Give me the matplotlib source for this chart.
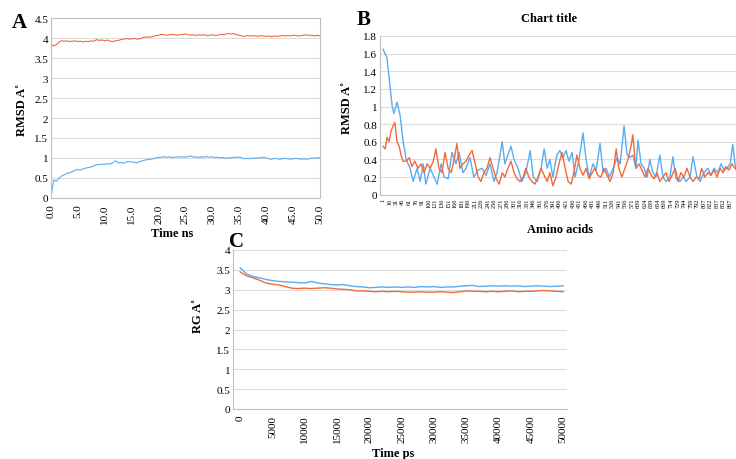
import numpy as np
import matplotlib
matplotlib.use("Agg")
import matplotlib.pyplot as plt

# ---------------- data ----------------
# Panel A: RMSD vs time (ns)
a_time = [i * 0.5 for i in range(101)]
a_orange = [3.85, 3.80, 3.83, 3.90, 3.93, 3.92, 3.93, 3.91, 3.92, 3.93, 3.91, 3.92, 3.90, 3.92, 3.91, 3.93,
            3.92, 3.96, 3.94, 3.95, 3.93, 3.95, 3.92, 3.91, 3.93, 3.94, 3.96, 3.97, 3.99, 3.97, 3.98, 3.99,
            3.97, 3.98, 4.01, 4.02, 4.03, 4.02, 4.04, 4.06, 4.07, 4.09, 4.08, 4.07, 4.08, 4.09, 4.08, 4.07,
            4.08, 4.09, 4.10, 4.08, 4.07, 4.08, 4.06, 4.08, 4.07, 4.08, 4.06, 4.07, 4.08, 4.06, 4.07, 4.09,
            4.08, 4.10, 4.11, 4.10, 4.11, 4.08, 4.07, 4.05, 4.04, 4.06, 4.05, 4.06, 4.05, 4.04, 4.06, 4.05,
            4.04, 4.05, 4.03, 4.05, 4.04, 4.05, 4.06, 4.05, 4.06, 4.05, 4.07, 4.06, 4.05, 4.06, 4.07, 4.08,
            4.06, 4.07, 4.05, 4.07, 4.05]
a_blue = [0.02, 0.45, 0.42, 0.50, 0.55, 0.58, 0.62, 0.63, 0.66, 0.70, 0.71, 0.70, 0.73, 0.75, 0.76, 0.78,
          0.80, 0.84, 0.83, 0.85, 0.84, 0.86, 0.85, 0.88, 0.93, 0.88, 0.89, 0.87, 0.90, 0.91, 0.90, 0.89,
          0.88, 0.91, 0.93, 0.95, 0.96, 0.97, 0.98, 1.00, 1.01, 1.02, 1.03, 1.02, 1.03, 1.01, 1.02, 1.03,
          1.02, 1.03, 1.02, 1.04, 1.05, 1.02, 1.03, 1.01, 1.03, 1.02, 1.04, 1.02, 1.03, 1.01, 1.02, 1.00,
          1.01, 0.99, 1.01, 1.00, 1.02, 1.01, 1.03, 1.00, 0.98, 0.99, 0.98, 1.00, 0.99, 1.01, 1.00, 1.02,
          1.00, 0.98, 0.97, 0.99, 0.98, 0.97, 0.98, 0.99, 0.98, 0.97, 0.98, 0.99, 0.98, 0.97, 0.98, 0.97,
          0.98, 1.00, 0.99, 1.01, 1.00]
a_xticks = [0, 5, 10, 15, 20, 25, 30, 35, 40, 45, 50]
a_xlabels = ["0.0", "5.0", "10.0", "15.0", "20.0", "25.0", "30.0", "35.0", "40.0", "45.0", "50.0"]
a_yticks = [0, 0.5, 1, 1.5, 2, 2.5, 3, 3.5, 4, 4.5]
a_ylabels = ["0", "0.5", "1", "1.5", "2", "2.5", "3", "3.5", "4", "4.5"]

# Panel B: per-residue RMSD (residue index positions, values)
b_blue_pos = [0, 9, 21, 25, 32, 39, 46, 53, 62, 69, 78, 85, 92, 98, 108, 115, 124, 133, 140, 149, 158, 167,
              174, 183, 190, 199, 208, 218, 227, 236, 245, 254, 261, 273, 279, 286, 293, 300, 309, 318, 327,
              337, 344, 353, 362, 369, 376, 382, 389, 398, 405, 412, 419, 426, 433, 440, 449, 458, 465, 472,
              481, 488, 497, 504, 511, 518, 527, 536, 543, 552, 559, 566, 572, 579, 584, 591, 598, 605, 611,
              618, 625, 634, 641, 648, 657, 664, 671, 680, 687, 694, 703, 710, 719, 726, 735, 744, 751, 758,
              767, 774, 781, 788, 795, 801, 808, 817]
b_blue = [1.65, 1.55, 1.00, 0.92, 1.05, 0.90, 0.60, 0.40, 0.30, 0.15, 0.30, 0.15, 0.35, 0.12, 0.30, 0.22,
          0.12, 0.35, 0.20, 0.18, 0.48, 0.35, 0.48, 0.25, 0.30, 0.42, 0.20, 0.28, 0.30, 0.22, 0.35, 0.15,
          0.25, 0.60, 0.35, 0.45, 0.55, 0.40, 0.30, 0.15, 0.25, 0.50, 0.20, 0.15, 0.30, 0.52, 0.30, 0.40,
          0.20, 0.45, 0.50, 0.42, 0.50, 0.38, 0.48, 0.20, 0.40, 0.70, 0.40, 0.20, 0.35, 0.28, 0.58, 0.25,
          0.30, 0.20, 0.30, 0.42, 0.35, 0.78, 0.45, 0.42, 0.45, 0.30, 0.62, 0.35, 0.30, 0.20, 0.40, 0.25,
          0.20, 0.45, 0.20, 0.15, 0.20, 0.43, 0.18, 0.15, 0.20, 0.15, 0.20, 0.43, 0.20, 0.15, 0.25, 0.30,
          0.22, 0.30, 0.25, 0.35, 0.28, 0.30, 0.35, 0.57, 0.28, 0.30]
b_orange_pos = [0, 5, 9, 14, 18, 23, 27, 32, 37, 41, 46, 53, 60, 66, 73, 80, 87, 94, 101, 108, 115, 121, 128,
                135, 142, 149, 156, 163, 169, 176, 183, 190, 197, 204, 211, 218, 224, 231, 238, 245, 252,
                259, 266, 273, 279, 286, 293, 300, 307, 314, 321, 327, 334, 341, 348, 355, 362, 369, 376,
                382, 389, 396, 403, 410, 417, 424, 431, 437, 444, 451, 458, 465, 472, 479, 485, 492, 499,
                506, 513, 520, 527, 534, 540, 547, 554, 561, 568, 572, 579, 586, 593, 600, 607, 614, 621,
                627, 634, 641, 648, 655, 662, 669, 676, 682, 689, 696, 703, 710, 717, 724, 730, 737, 744,
                751, 758, 765, 772, 779, 785, 792, 799, 806, 815]
b_orange = [0.55, 0.52, 0.65, 0.60, 0.72, 0.78, 0.82, 0.60, 0.55, 0.45, 0.38, 0.38, 0.42, 0.32, 0.38, 0.30,
            0.35, 0.25, 0.35, 0.30, 0.38, 0.52, 0.30, 0.25, 0.48, 0.30, 0.25, 0.40, 0.58, 0.30, 0.35, 0.38,
            0.45, 0.50, 0.35, 0.20, 0.15, 0.25, 0.30, 0.42, 0.30, 0.18, 0.12, 0.25, 0.20, 0.30, 0.38, 0.25,
            0.18, 0.15, 0.20, 0.30, 0.20, 0.15, 0.12, 0.20, 0.30, 0.22, 0.15, 0.25, 0.10, 0.20, 0.35, 0.48,
            0.30, 0.15, 0.12, 0.25, 0.45, 0.30, 0.22, 0.30, 0.18, 0.25, 0.30, 0.22, 0.20, 0.30, 0.22, 0.15,
            0.25, 0.52, 0.30, 0.20, 0.30, 0.40, 0.55, 0.68, 0.30, 0.35, 0.28, 0.20, 0.30, 0.22, 0.18, 0.25,
            0.15, 0.20, 0.25, 0.15, 0.22, 0.30, 0.15, 0.25, 0.20, 0.30, 0.20, 0.15, 0.20, 0.18, 0.30, 0.20,
            0.25, 0.22, 0.28, 0.20, 0.30, 0.25, 0.32, 0.28, 0.35, 0.30, 0.30]
b_xlabels = ["1", "16", "31", "46", "61", "76", "91", "106", "121", "136", "151", "166", "181", "196", "211",
             "226", "241", "256", "271", "286", "301", "316", "331", "346", "361", "376", "391", "406", "421",
             "436", "451", "466", "481", "496", "511", "526", "541", "556", "571", "609", "624", "639", "654",
             "669", "714", "729", "744", "759", "792", "807", "822", "837", "852", "867"]
b_yticks = [0, 0.2, 0.4, 0.6, 0.8, 1.0, 1.2, 1.4, 1.6, 1.8]
b_ylabels = ["0", "0.2", "0.4", "0.6", "0.8", "1", "1.2", "1.4", "1.6", "1.8"]

# Panel C: radius of gyration vs time (ps)
c_time = [i * 1000 for i in range(51)]
c_blue = [3.55, 3.40, 3.33, 3.30, 3.26, 3.23, 3.21, 3.20, 3.19, 3.18, 3.17, 3.21, 3.17, 3.15, 3.13, 3.12,
          3.13, 3.10, 3.08, 3.07, 3.05, 3.06, 3.07, 3.06, 3.07, 3.06, 3.07, 3.06, 3.08, 3.07, 3.08, 3.06,
          3.07, 3.07, 3.09, 3.10, 3.11, 3.08, 3.09, 3.10, 3.09, 3.10, 3.09, 3.10, 3.08, 3.09, 3.10, 3.09,
          3.08, 3.09, 3.10]
c_orange = [3.45, 3.35, 3.30, 3.24, 3.17, 3.14, 3.12, 3.08, 3.04, 3.03, 3.04, 3.03, 3.04, 3.05, 3.04, 3.02,
            3.01, 3.00, 2.97, 2.97, 2.96, 2.95, 2.96, 2.95, 2.96, 2.95, 2.94, 2.94, 2.95, 2.94, 2.94, 2.95,
            2.94, 2.93, 2.95, 2.97, 2.96, 2.96, 2.95, 2.96, 2.95, 2.96, 2.97, 2.95, 2.96, 2.96, 2.97, 2.98,
            2.97, 2.96, 2.95]
c_xticks = [0, 5000, 10000, 15000, 20000, 25000, 30000, 35000, 40000, 45000, 50000]
c_yticks = [0, 0.5, 1, 1.5, 2, 2.5, 3, 3.5, 4]
c_ylabels = ["0", "0.5", "1", "1.5", "2", "2.5", "3", "3.5", "4"]

# ---------------- style ----------------
BLUE = "#5aacf0"
ORANGE = "#f2693a"
GRID = "#dcdcdc"
SPINE = "#bfbfbf"
SERIF = ["Liberation Serif", "DejaVu Serif"]
plt.rcParams["font.family"] = SERIF

W, H = 736, 460
fig = plt.figure(figsize=(W / 100, H / 100), dpi=100)


def px_axes(left, top, right, bottom):
    return fig.add_axes([left / W, 1 - bottom / H, (right - left) / W, (bottom - top) / H])


def style(ax, box=False):
    ax.set_axisbelow(True)
    ax.grid(axis="y", color=GRID, lw=0.8)
    ax.tick_params(length=0, labelsize=8, pad=2)
    ax.tick_params(axis="x", pad=4)
    for s in ["top", "right"]:
        ax.spines[s].set_visible(box)
    for s in ax.spines.values():
        s.set_color(SPINE)
        s.set_linewidth(0.8)


# Panel A
axA = px_axes(51, 19, 320, 199)
style(axA, box=True)
axA.plot(a_time, a_orange, color=ORANGE, lw=0.8)
axA.plot(a_time, a_blue, color=BLUE, lw=0.8)
axA.set_xlim(0, 50)
axA.set_ylim(0, 4.5)
axA.set_xticks(a_xticks)
axA.set_xticklabels(a_xlabels, rotation=90)
axA.set_yticks(a_yticks)
axA.set_yticklabels(a_ylabels)
fig.text(22 / W, 1 - 110 / H, "RMSD A˚", rotation=90, ha="center", va="center",
         fontsize=9, fontweight="bold")
fig.text(172 / W, 1 - 234 / H, "Time ns", ha="center", va="center", fontsize=9, fontweight="bold")
fig.text(19 / W, 1 - 23 / H, "A", ha="center", va="center", fontsize=15, fontweight="bold")

# Panel B
bstep = 6.55 / 15.0  # pixels per residue
axB = px_axes(380, 37, 383 + 885 * bstep, 195.7)
style(axB)
axB.tick_params(axis="x", pad=2)
axB.plot(b_blue_pos, b_blue, color=BLUE, lw=1.0)
axB.plot(b_orange_pos, b_orange, color=ORANGE, lw=1.0)
axB.set_xlim(-7, 885)
axB.set_ylim(0, 1.8)
axB.set_xticks([15 * i for i in range(len(b_xlabels))])
axB.set_xticklabels(b_xlabels, rotation=90, fontsize=4.5)
axB.set_yticks(b_yticks)
axB.set_yticklabels(b_ylabels)
fig.text(347 / W, 1 - 108 / H, "RMSD A˚", rotation=90, ha="center", va="center",
         fontsize=9, fontweight="bold")
fig.text(549 / W, 1 - 19 / H, "Chart title", ha="center", va="center", fontsize=9, fontweight="bold")
fig.text(560 / W, 1 - 230 / H, "Amino acids", ha="center", va="center", fontsize=9, fontweight="bold")
fig.text(364 / W, 1 - 20 / H, "B", ha="center", va="center", fontsize=15, fontweight="bold")

# Panel C
axC = px_axes(233, 251, 567, 410)
style(axC)
axC.plot(c_time, c_blue, color=BLUE, lw=1.0)
axC.plot(c_time, c_orange, color=ORANGE, lw=1.0)
axC.set_xlim(-1100, 50600)
axC.set_ylim(0, 4)
axC.set_xticks(c_xticks)
axC.set_xticklabels([str(v) for v in c_xticks], rotation=90)
axC.set_yticks(c_yticks)
axC.set_yticklabels(c_ylabels)
fig.text(198 / W, 1 - 316 / H, "RG A˚", rotation=90, ha="center", va="center",
         fontsize=9, fontweight="bold")
fig.text(393 / W, 1 - 454 / H, "Time ps", ha="center", va="center", fontsize=9, fontweight="bold")
fig.text(237 / W, 1 - 242 / H, "C", ha="center", va="center", fontsize=15, fontweight="bold")

fig.savefig("out.png", dpi=100)
